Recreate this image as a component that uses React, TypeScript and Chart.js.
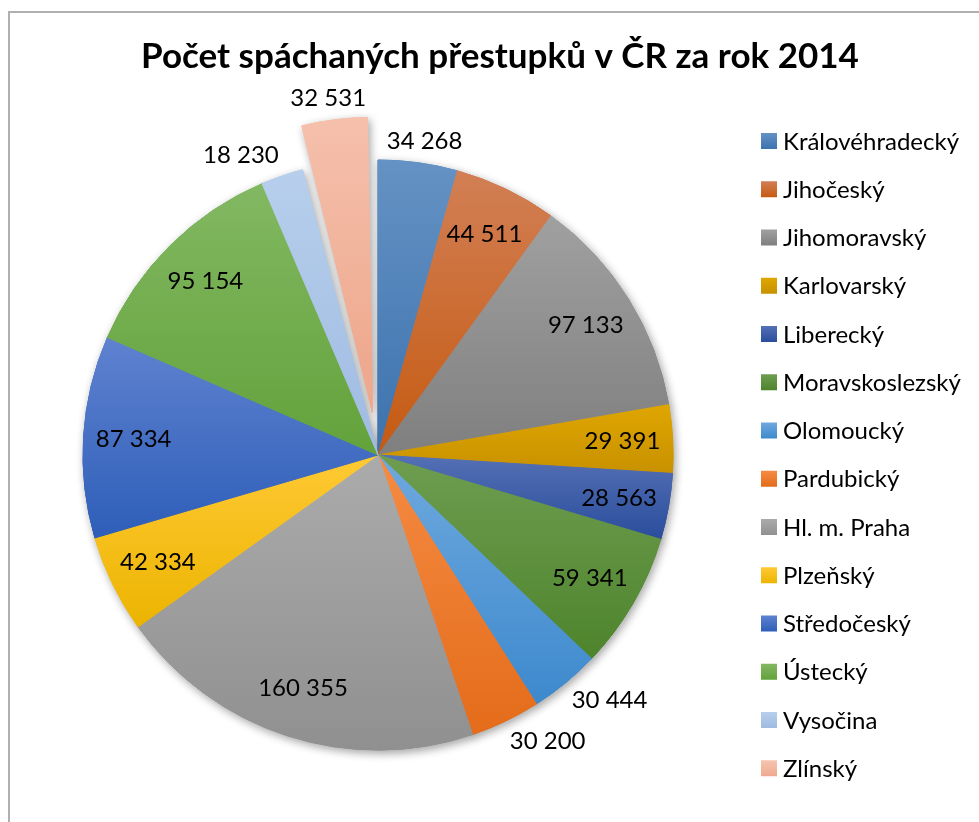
import React, { useEffect, useRef } from 'react';
import { Chart, registerables } from 'chart.js';

Chart.register(...registerables);

const chartTitle = 'Počet spáchaných přestupků v ČR za rok 2014';
const regions = [
  'Královéhradecký', 'Jihočeský', 'Jihomoravský', 'Karlovarský', 'Liberecký',
  'Moravskoslezský', 'Olomoucký', 'Pardubický', 'Hl. m. Praha', 'Plzeňský',
  'Středočeský', 'Ústecký', 'Vysočina', 'Zlínský',
];
const offenses = [34268, 44511, 97133, 29391, 28563, 59341, 30444, 30200, 160355, 42334, 87334, 95154, 18230, 32531];
const colorsTop = ['#6592c4', '#d27f55', '#a0a0a0', '#dfa600', '#5470b5', '#6e9d50', '#6fa9de', '#f58b43', '#ababab', '#ffc934', '#5f82d0', '#82b862', '#b7cfec', '#f7c4b1'];
const colorsBottom = ['#3c72ae', '#c55a11', '#7f7f7f', '#c89100', '#2a4d9c', '#4e842c', '#3d89cd', '#e46c1a', '#909090', '#ecb400', '#2e5eb8', '#63a23b', '#9fbbe2', '#eea98f'];
const outsideLabel = [true, false, false, false, false, false, true, true, false, false, false, false, true, true];
const explodedIndex = 13;

const RADIUS = 295;
const EXPLODE = 43;
const FONT = 'Lato, "Noto Sans", sans-serif';

const fmt = (v: number) => String(v).replace(/\B(?=(\d{3})+(?!\d))/g, ' ');
const total = offenses.reduce((a, b) => a + b, 0);

function sliceGradient(c: any, top: string[], bottom: string[]) {
  const chart = c.chart;
  const area = chart.chartArea;
  const i = c.dataIndex ?? 0;
  if (!area) return bottom[i];
  const cx = (area.left + area.right) / 2;
  const cy = (area.top + area.bottom) / 2;
  let acc = 0;
  for (let j = 0; j < i; j++) acc += offenses[j];
  const a0 = (acc / total) * Math.PI * 2;
  const a1 = ((acc + offenses[i]) / total) * Math.PI * 2;
  const ys = [cy, cy - RADIUS * Math.cos(a0), cy - RADIUS * Math.cos(a1)];
  if (a0 <= Math.PI && a1 >= Math.PI) ys.push(cy + RADIUS);
  let shift = 0;
  if (i === explodedIndex) shift = -EXPLODE * Math.cos((a0 + a1) / 2);
  const minY = Math.min(...ys) + shift;
  const maxY = Math.max(...ys) + shift;
  const g = chart.ctx.createLinearGradient(0, minY, 0, maxY);
  g.addColorStop(0, top[i]);
  g.addColorStop(1, bottom[i]);
  return g;
}

const explodeFix = {
  id: 'explodeFix',
  afterDatasetsUpdate(chart: any) {
    const el = chart.getDatasetMeta(0).data[explodedIndex];
    if (!el) return;
    const fix = 1 - Math.sin(Math.min(Math.PI, el.circumference || 0));
    el.outerRadius = RADIUS - EXPLODE * fix;
  },
};

const shadowPlugin = {
  id: 'shadowPlugin',
  beforeDatasetsDraw(chart: any) {
    const ctx = chart.ctx;
    ctx.save();
    ctx.shadowColor = 'rgba(0,0,0,0.35)';
    ctx.shadowBlur = 8;
    ctx.shadowOffsetX = 2;
    ctx.shadowOffsetY = 3;
    chart.getDatasetMeta(0).data.forEach((el: any) => el.draw(ctx));
    ctx.restore();
  },
};

const decorations = {
  id: 'decorations',
  beforeDraw(chart: any) {
    const ctx = chart.ctx;
    ctx.save();
    ctx.fillStyle = '#ffffff';
    ctx.fillRect(0, 0, chart.width, chart.height);
    ctx.strokeStyle = '#b0b0b0';
    ctx.lineWidth = 2;
    ctx.beginPath();
    ctx.moveTo(9, chart.height + 5);
    ctx.lineTo(9, 12);
    ctx.lineTo(chart.width + 5, 12);
    ctx.stroke();
    ctx.restore();
  },
  afterDatasetsDraw(chart: any) {
    const ctx = chart.ctx;
    const meta = chart.getDatasetMeta(0);
    ctx.save();
    ctx.fillStyle = '#000000';
    ctx.textAlign = 'center';
    ctx.textBaseline = 'middle';
    const fs = 24;
    ctx.font = `${fs}px ${FONT}`;
    meta.data.forEach((el: any, i: number) => {
      const { startAngle, endAngle, x, y } = el.getProps(['startAngle', 'endAngle', 'x', 'y'], true);
      const mid = (startAngle + endAngle) / 2;
      const dx = Math.cos(mid);
      const dy = Math.sin(mid);
      const shift = i === explodedIndex ? EXPLODE : 0;
      const text = fmt(offenses[i]);
      const w = ctx.measureText(text).width;
      let px: number;
      let py: number;
      if (outsideLabel[i]) {
        const rr = RADIUS + shift + 10;
        const sx = Math.abs(dx) > 0.2 ? Math.sign(dx) * w / 2 : dx * w / 2;
        px = x + dx * rr + sx;
        py = y + dy * rr + dy * fs / 2;
      } else {
        const rr = RADIUS * 0.83 + shift;
        px = x + dx * rr;
        py = y + dy * rr;
      }
      ctx.fillText(text, px, py);
    });
    ctx.restore();
  },
  afterDraw(chart: any) {
    const ctx = chart.ctx;
    ctx.save();
    // title
    ctx.fillStyle = '#000000';
    ctx.textAlign = 'center';
    ctx.textBaseline = 'middle';
    ctx.font = `bold 35px ${FONT}`;
    ctx.fillText(chartTitle, 500, 57);
    // legend
    const startY = 141;
    const step = 48.25;
    ctx.textAlign = 'left';
    ctx.font = `24px ${FONT}`;
    regions.forEach((name, i) => {
      const cy = startY + i * step;
      const g = ctx.createLinearGradient(0, cy - 8, 0, cy + 8);
      g.addColorStop(0, colorsTop[i]);
      g.addColorStop(1, colorsBottom[i]);
      ctx.fillStyle = g;
      ctx.fillRect(761, cy - 8, 16, 16);
      ctx.fillStyle = '#000000';
      ctx.fillText(name, 783, cy + 1);
    });
    ctx.restore();
  },
};

export default function App() {
  const canvasRef = useRef<HTMLCanvasElement | null>(null);

  useEffect(() => {
    if (!canvasRef.current) return;
    const chart = new Chart(canvasRef.current, {
      type: 'pie',
      data: {
        labels: regions,
        datasets: [
          {
            data: offenses,
            backgroundColor: (c: any) => sliceGradient(c, colorsTop, colorsBottom),
            borderColor: (c: any) => sliceGradient(c, colorsTop, colorsBottom),
            borderWidth: 1,
            offset: (c: any) => (c.dataIndex === explodedIndex ? EXPLODE * 4 : 0),
            hoverOffset: 0,
          },
        ],
      },
      options: {
        responsive: true,
        maintainAspectRatio: false,
        animation: false,
        events: [],
        radius: RADIUS,
        layout: { padding: { left: 40, right: 263, top: 100, bottom: 12 } },
        plugins: {
          legend: { display: false },
          title: { display: false },
          tooltip: { enabled: false },
        },
      } as any,
      plugins: [decorations, explodeFix, shadowPlugin],
    });
    return () => chart.destroy();
  }, []);

  return (
    <div style={{ position: 'absolute', left: 0, top: 0, width: 979, height: 822 }}>
      <canvas ref={canvasRef} />
    </div>
  );
}
